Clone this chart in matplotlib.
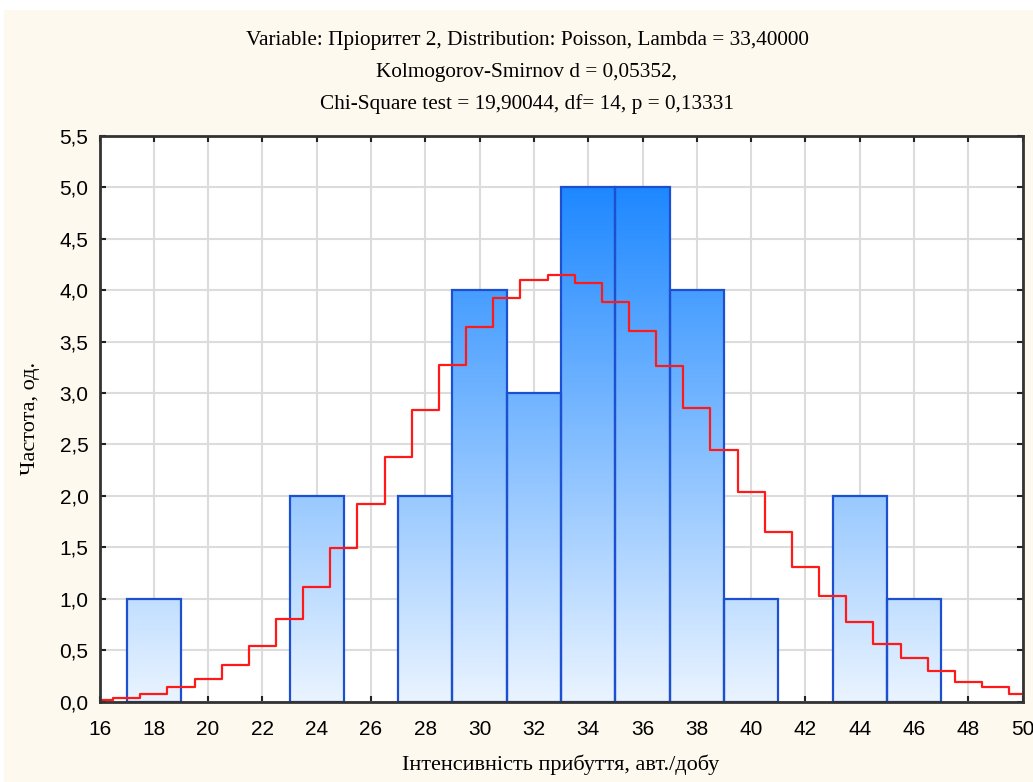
import numpy as np
import matplotlib
matplotlib.use("Agg")
import matplotlib.pyplot as plt
from matplotlib.patches import Rectangle

# ---- data ----
bin_left = [17, 19, 21, 23, 25, 27, 29, 31, 33, 35, 37, 39, 41, 43, 45, 47]
bin_width = 2
counts = [1, 0, 0, 2, 0, 2, 4, 3, 5, 5, 4, 1, 0, 2, 1, 0]

expected_x = list(range(16, 51))
expected_y = [0.02, 0.04, 0.075, 0.14, 0.22, 0.36, 0.54, 0.80, 1.11, 1.49,
              1.92, 2.38, 2.83, 3.27, 3.64, 3.92, 4.10, 4.15, 4.07, 3.88,
              3.60, 3.26, 2.85, 2.45, 2.04, 1.65, 1.31, 1.03, 0.77, 0.56,
              0.42, 0.30, 0.19, 0.14, 0.075]

x_ticks = list(range(16, 51, 2))
y_ticks = [i * 0.5 for i in range(12)]

title_lines = ["Variable: Пріоритет 2, Distribution: Poisson, Lambda = 33,40000",
               "Kolmogorov-Smirnov d = 0,05352,",
               "Chi-Square test = 19,90044, df= 14, p = 0,13331"]
xlabel = "Інтенсивність прибуття, авт./добу"
ylabel = "Частота, од."

# ---- figure ----
W, H = 1033, 782
fig = plt.figure(figsize=(W / 100, H / 100), dpi=100, facecolor="white")
cream = "#fef9ee"
fig.patches.append(Rectangle((4 / W, 0), 1, 1 - 10 / H, transform=fig.transFigure,
                             facecolor=cream, edgecolor="none", zorder=-10))

left, right, top, bottom = 99.5, 1022.7, 135.7, 701.7
ax = fig.add_axes([left / W, 1 - bottom / H, (right - left) / W, (bottom - top) / H])
ax.set_facecolor("white")

serif = ["Liberation Serif", "DejaVu Serif"]
sans = ["Liberation Sans", "DejaVu Sans"]

# gradient colors based on absolute y
c_top = np.array([30, 136, 255]) / 255.0   # at y = 5
c_bot = np.array([234, 244, 255]) / 255.0  # at y = 0

def grad_img(h, n=200):
    ys = np.linspace(0, h, n)
    t = np.clip(ys / 5.0, 0, 1)[:, None]
    cols = c_bot[None, :] * (1 - t) + c_top[None, :] * t
    return cols[:, None, :]

for x0, c in zip(bin_left, counts):
    if c <= 0:
        continue
    ax.imshow(grad_img(c), extent=[x0, x0 + bin_width, 0, c], origin="lower",
              aspect="auto", zorder=2, interpolation="bilinear")
    ax.add_patch(Rectangle((x0, 0), bin_width, c, facecolor="none",
                           edgecolor="#1c50d0", linewidth=1.6, zorder=3))

ax.step(expected_x, expected_y, where="mid", color="#ff1a1a", linewidth=1.6, zorder=4)

ax.set_xlim(16, 50)
ax.set_ylim(0, 5.5)
ax.set_xticks(x_ticks)
ax.set_yticks(y_ticks)
ax.set_xticklabels([str(v) for v in x_ticks], fontfamily=sans, fontsize=15)
ax.set_yticklabels([f"{v:.1f}".replace(".", ",") for v in y_ticks], fontfamily=sans, fontsize=15)
ax.tick_params(direction="in", length=4, width=1.5, color="#222222",
               top=True, right=True)
ax.tick_params(axis="x", pad=13)
ax.tick_params(axis="y", pad=8)
ax.grid(True, color="#dcdcdc", linewidth=1.5, zorder=0)
ax.set_axisbelow(True)
for s in ax.spines.values():
    s.set_color("#333333")
    s.set_linewidth(2)
    s.set_zorder(5)

tfs = 15.3
fig.text(527 / W, 1 - 40 / H, title_lines[0], ha="center", va="center", fontfamily=serif, fontsize=tfs)
fig.text(527 / W, 1 - 73 / H, title_lines[1], ha="center", va="center", fontfamily=serif, fontsize=tfs)
fig.text(527 / W, 1 - 104 / H, title_lines[2], ha="center", va="center", fontfamily=serif, fontsize=tfs)
fig.text(561 / W, 1 - 765 / H, xlabel, ha="center", va="center", fontfamily=serif, fontsize=16)
fig.text(30 / W, 1 - 418 / H, ylabel, ha="center", va="center", rotation=90, fontfamily=serif, fontsize=16)

fig.savefig("out.png", dpi=100, facecolor="white")
